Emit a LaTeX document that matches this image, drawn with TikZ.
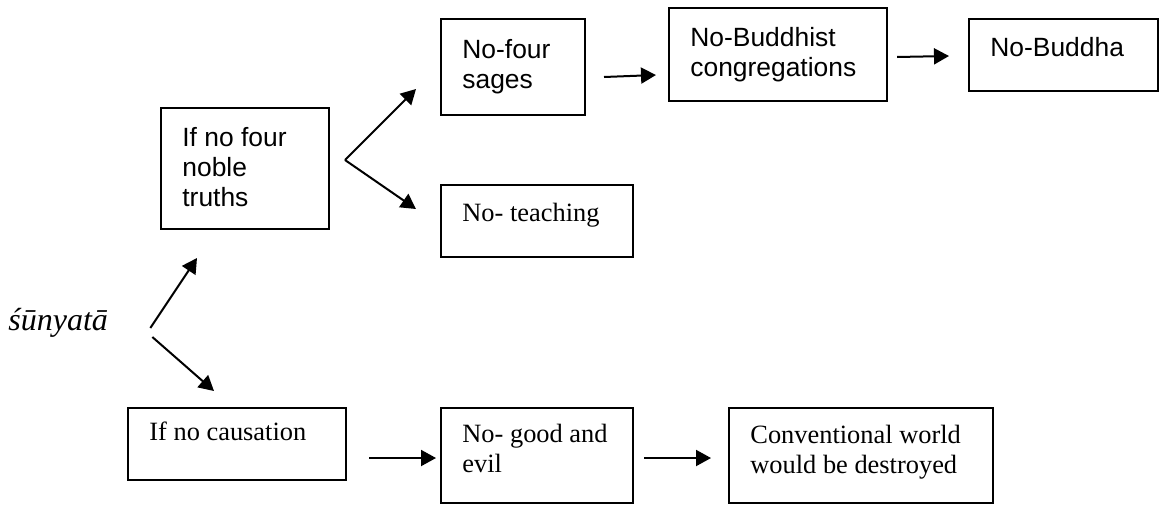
\documentclass[tikz,border=0pt]{standalone}
\usepackage{fontspec}
\setmainfont{Liberation Serif}
\newfontfamily\arialf{Liberation Sans}
\usetikzlibrary{fit,calc,arrows.meta}
\begin{document}
\begin{tikzpicture}[x=0.5pt,y=-0.5pt,
  box/.style={draw,line width=1pt,inner sep=0pt},
  sanstext/.style={anchor=north west,inner sep=0pt,align=left,font=\arialf\fontsize{13.2}{15}\selectfont},
  seriftext/.style={anchor=north west,inner sep=0pt,align=left,font=\fontsize{13.2}{15}\selectfont},
  arr/.style={line width=1pt,-{Triangle[length=7.5pt,width=8pt]}}]
\useasboundingbox (0,0) rectangle (1159,504);
% boxes
\node[box,fit={(161,108) (329,229)}] (noble) {};
\node[box,fit={(441,19) (585,115)}] (sages) {};
\node[box,fit={(669,8) (887,101)}] (cong) {};
\node[box,fit={(969,19) (1158,91)}] (buddha) {};
\node[box,fit={(441,185) (633,257)}] (teach) {};
\node[box,fit={(128,408) (346,480)}] (caus) {};
\node[box,fit={(441,408) (633,502.5)}] (good) {};
\node[box,fit={(729,408) (993,502.5)}] (conv) {};
% texts
\node[sanstext] (nobleT) at (182,127) {If no four\\noble\\truths};
\node[sanstext] (sagesT) at (462,39) {No-four\\sages};
\node[sanstext] (congT) at (690,27) {No-Buddhist\\congregations};
\node[sanstext] (buddhaT) at (990,37) {No-Buddha};
\node[seriftext] (teachT) at (462,203) {No- teaching};
\node[seriftext] (causT) at (149,422) {If no causation};
\node[seriftext] (goodT) at (462,424) {No- good and\\evil};
\node[seriftext] (convT) at (750,425) {Conventional world\\would be destroyed};
\node[anchor=west,inner sep=0pt,font=\fontsize{16}{19}\selectfont\itshape] (sun) at (8,323) {śūnyatā};
% connectors
\draw[arr] ($(noble.east)+(15,-8.5)$) -- ($(sages.west)+(-24,22)$);
\draw[arr] ($(noble.east)+(15,-8.5)$) -- ($(teach.west)+(-24,-12)$);
\draw[arr] ($(sages.east)+(18,10)$) -- ($(cong.west)+(-12,20.5)$);
\draw[arr] ($(cong.east)+(9,2.5)$) -- ($(buddha.west)+(-19,1)$);
\draw[arr] ($(sun.east)+(42,5)$) -- ($(noble.south west)+(37,28)$);
\draw[arr] ($(sun.east)+(44,14)$) -- ($(caus.north west)+(87,-16)$);
\draw[arr] ($(caus.east)+(22,14)$) -- ($(good.west)+(-4,2.75)$);
\draw[arr] ($(good.east)+(10,2.75)$) -- ($(conv.west)+(-17,2.75)$);
\end{tikzpicture}
\end{document}
